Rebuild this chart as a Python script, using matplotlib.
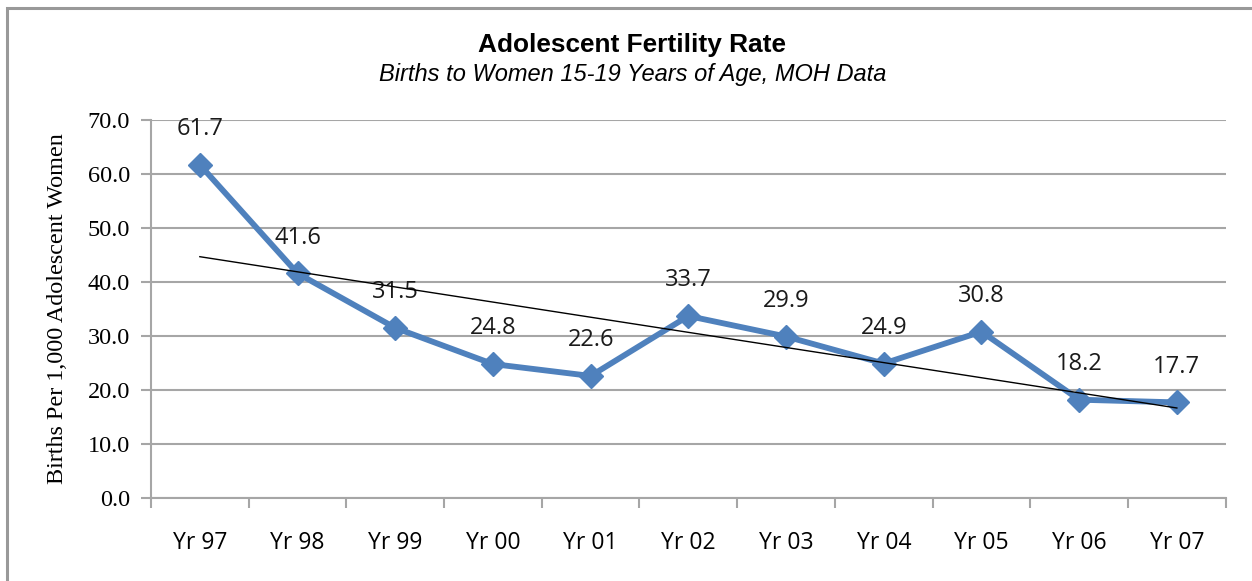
import numpy as np
import matplotlib
matplotlib.use('Agg')
import matplotlib.pyplot as plt
from matplotlib.patches import Rectangle

# 数据
years = ['Yr 97', 'Yr 98', 'Yr 99', 'Yr 00', 'Yr 01', 'Yr 02',
         'Yr 03', 'Yr 04', 'Yr 05', 'Yr 06', 'Yr 07']
rates = [61.7, 41.6, 31.5, 24.8, 22.6, 33.7, 29.9, 24.9, 30.8, 18.2, 17.7]
y_ticks = [0, 10, 20, 30, 40, 50, 60, 70]

blue = '#4F81BD'
grey = '#A6A6A6'

fig = plt.figure(figsize=(12.52, 5.81), dpi=100)
ax = fig.add_axes([0.1206, 0.1429, 0.979 - 0.1206, 0.7935 - 0.1429])

x = np.arange(len(years))
ax.plot(x, rates, color=blue, lw=4.2, marker='D', ms=12, mfc=blue, mec=blue, zorder=3)

# 线性趋势线
k, b = np.polyfit(x, rates, 1)
ax.plot(x, k * x + b, color='black', lw=1.0, zorder=4)

for xi, v in zip(x, rates):
    ax.text(xi, v + 6.6, '%.1f' % v, ha='center', va='center',
            fontsize=17, family='Open Sans', color='#1a1a1a')

ax.set_xlim(-0.5, len(years) - 0.5)
ax.set_ylim(0, 70)
ax.set_yticks(y_ticks)
ax.set_yticklabels(['%.1f' % t for t in y_ticks], family='Liberation Serif', fontsize=17.5)
ax.set_xticks(x)
ax.set_xticklabels(years, family='Open Sans', fontsize=16.5)
ax.tick_params(axis='x', length=0, pad=24)
ax.set_xticks(np.arange(-0.5, len(years)), minor=True)
ax.tick_params(axis='x', which='minor', length=7, color=grey, width=1.5)
ax.tick_params(axis='y', length=7, color=grey, width=1.5, pad=8)
ax.grid(axis='y', color=grey, lw=1.5)
ax.set_axisbelow(True)
for s in ['top', 'right']:
    ax.spines[s].set_visible(False)
for s in ['left', 'bottom']:
    ax.spines[s].set_color(grey)
    ax.spines[s].set_linewidth(1.5)

ax.set_ylabel('Births Per 1,000 Adolescent Women', family='Liberation Serif', fontsize=17.4, labelpad=14)

fig.text(0.505, 0.9225, 'Adolescent Fertility Rate', ha='center', va='center',
         family='Liberation Sans', fontweight='bold', fontsize=18.9)
fig.text(0.505, 0.8726, 'Births to Women 15-19 Years of Age, MOH Data', ha='center', va='center',
         family='Liberation Sans', style='italic', fontsize=17)

# 外框
fig.patches.append(Rectangle((7 / 1252, -0.1), 1.2, 1 - 8 / 581 + 0.1, transform=fig.transFigure,
                             fill=False, ec='#999999', lw=2.2))

fig.savefig('out.png', dpi=100)
